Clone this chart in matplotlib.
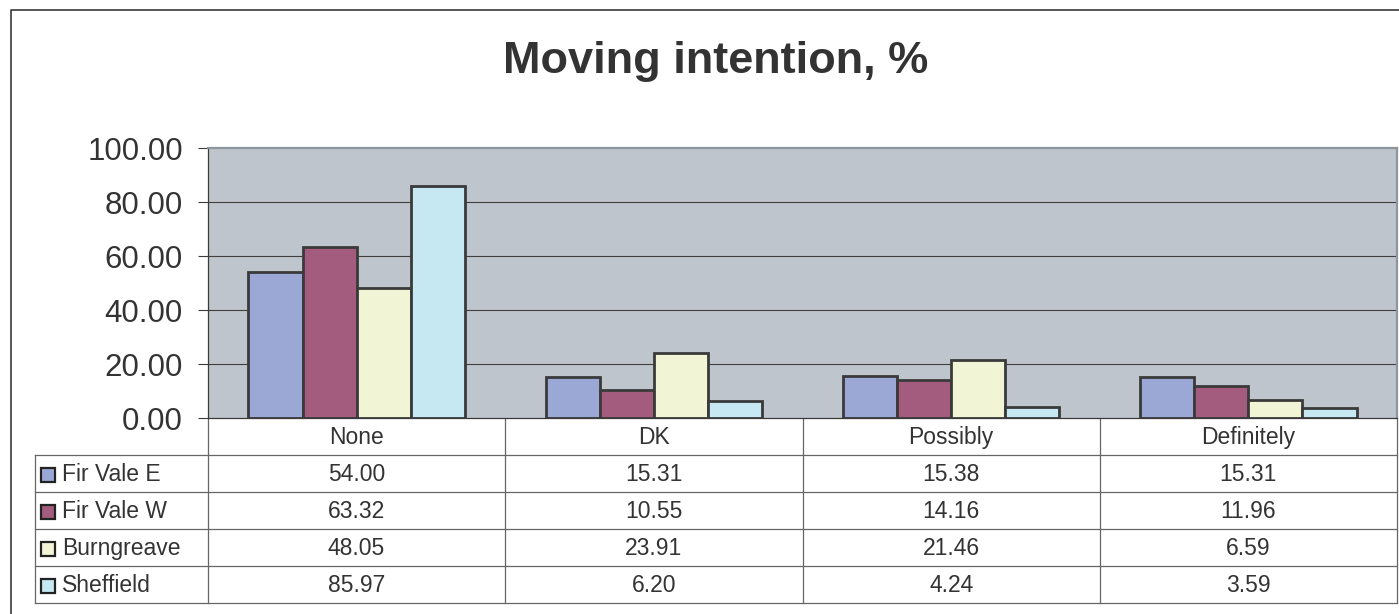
import matplotlib
matplotlib.use("Agg")
from matplotlib import pyplot as plt
from matplotlib.patches import Rectangle
import numpy as np

plt.rcParams['font.family'] = ['Liberation Sans', 'DejaVu Sans']

categorias = ['None', 'DK', 'Possibly', 'Definitely']
series = ['Fir Vale E', 'Fir Vale W', 'Burngreave', 'Sheffield']
fir_vale_e = [54.00, 15.31, 15.38, 15.31]
fir_vale_w = [63.32, 10.55, 14.16, 11.96]
burngreave = [48.05, 23.91, 21.46, 6.59]
sheffield = [85.97, 6.20, 4.24, 3.59]
valores = [fir_vale_e, fir_vale_w, burngreave, sheffield]
colores = ['#9BA8D6', '#A35C7E', '#F2F5D5', '#C5E8F3']
yticks = [0, 20, 40, 60, 80, 100]

W, H = 1399, 614
texto = '#333333'
linea = '#3a3a3a'

fig = plt.figure(figsize=(W / 100, H / 100), dpi=100)

# capa en pixeles para marco, titulo y tabla
capa = fig.add_axes([0, 0, 1, 1])
capa.set_xlim(0, W)
capa.set_ylim(H, 0)
capa.axis('off')

# area del grafico
x0, x1, y_top, y_bot = 208, 1397, 148, 418
ax = fig.add_axes([x0 / W, 1 - y_bot / H, (x1 - x0) / W, (y_bot - y_top) / H])
ax.set_facecolor('#BFC5CC')

ancho = 0.182
x = np.arange(len(categorias))
for i, (nombre, vals) in enumerate(zip(series, valores)):
    ax.bar(x + (i - 1.5) * ancho, vals, ancho, color=colores[i],
           edgecolor=linea, linewidth=2.0, zorder=3)

ax.set_xlim(-0.5, len(categorias) - 0.5)
ax.set_ylim(0, 100)
ax.set_yticks(yticks)
ax.set_yticklabels([f'{v:.2f}' for v in yticks], fontsize=22.5, color=texto)
ax.set_xticks([])
ax.tick_params(axis='y', length=7, width=0.8, color=linea, pad=11)
for v in yticks[1:-1]:
    ax.axhline(v, color='#404040', linewidth=0.8, zorder=1)
ax.spines['top'].set_color('#8E959B')
ax.spines['top'].set_linewidth(1.6)
ax.spines['right'].set_color('#8E959B')
ax.spines['right'].set_linewidth(1.6)
ax.spines['left'].set_color(linea)
ax.spines['left'].set_linewidth(0.9)
ax.spines['bottom'].set_color(linea)
ax.spines['bottom'].set_linewidth(0.9)

# marco exterior
capa.plot([11, 11, W], [H, 10, 10], color=linea, linewidth=1.2)

capa.text(716, 61, 'Moving intention, %', fontsize=32.5, fontweight='bold',
          color=texto, ha='center', va='center')

# tabla de datos
col_x = np.linspace(x0, x1, len(categorias) + 1)
fila_h = 37
tabla_izq = 35
filas_y = [y_bot + fila_h * (k + 1) for k in range(len(series) + 1)]
gris = '#666666'

for yy in filas_y:
    capa.plot([tabla_izq, x1], [yy, yy], color=gris, linewidth=0.9)
for xx in col_x:
    capa.plot([xx, xx], [y_bot, filas_y[-1]], color=gris, linewidth=0.9)
capa.plot([tabla_izq, tabla_izq], [filas_y[0], filas_y[-1]], color=gris, linewidth=0.9)

for j, cat in enumerate(categorias):
    capa.text((col_x[j] + col_x[j + 1]) / 2, y_bot + fila_h / 2 + 1, cat,
              fontsize=16.5, color=texto, ha='center', va='center')

for i, (nombre, vals) in enumerate(zip(series, valores)):
    yc = filas_y[i] + fila_h / 2 + 1
    capa.add_patch(Rectangle((41, yc - 7), 14, 14, facecolor=colores[i],
                             edgecolor='#222222', linewidth=1.6))
    capa.text(62, yc, nombre, fontsize=16.5, color=texto, ha='left', va='center')
    for j, v in enumerate(vals):
        capa.text((col_x[j] + col_x[j + 1]) / 2, yc, f'{v:.2f}',
                  fontsize=16.5, color=texto, ha='center', va='center')

fig.savefig('out.png', dpi=100)
